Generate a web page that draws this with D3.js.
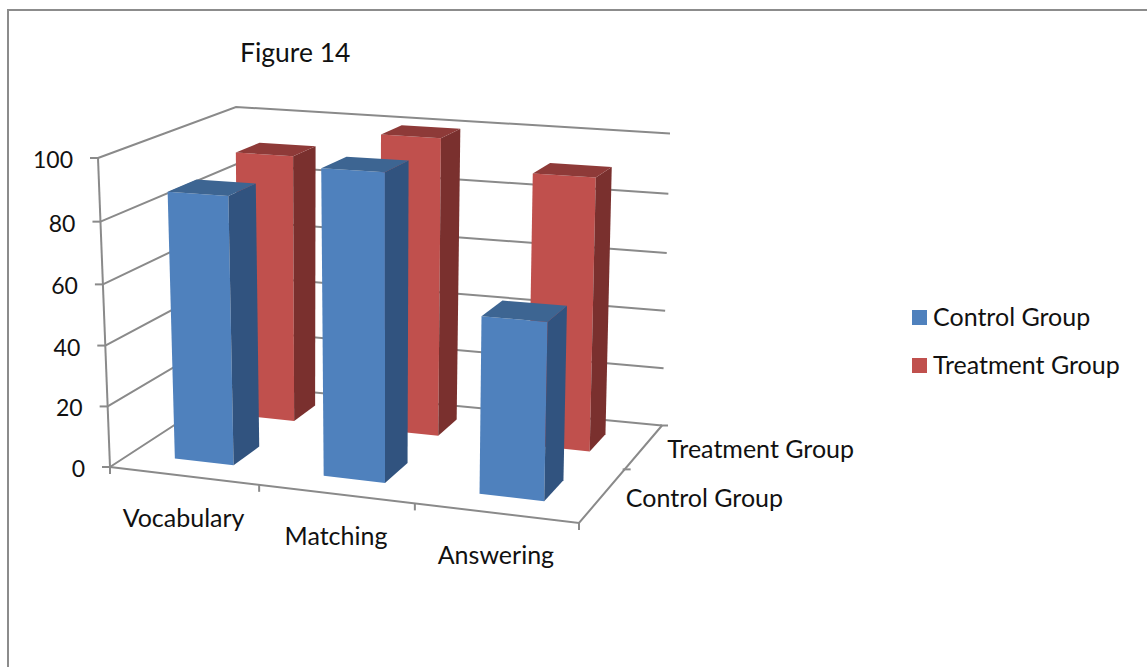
<!DOCTYPE html>
<html>
<head>
<meta charset="utf-8">
<title>Figure 14</title>
<script src="https://cdnjs.cloudflare.com/ajax/libs/d3/7.8.5/d3.min.js"></script>
<style>
  html, body { margin: 0; padding: 0; background: #fff; }
  svg { display: block; }
  text { font-family: Lato, "Open Sans", sans-serif; fill: #111; }
</style>
</head>
<body>
<svg id="chart" width="1147" height="667"></svg>
<script>
// Chart data
const categories = ["Vocabulary", "Matching", "Answering"];
const seriesNames = ["Control Group", "Treatment Group"];
const controlValues = [87.5, 98, 56];
const treatmentValues = [91, 100, 90.5];
const valueTicks = [0, 20, 40, 60, 80, 100];

const colors = {
  "Control Group": { front: "#4f81bd", side: "#31537f", top: "#3d6592" },
  "Treatment Group": { front: "#c0504d", side: "#7a302e", top: "#8e3a38" }
};
const gridColor = "#8a8a8a";
const fontSize = 25;

const svg = d3.select("#chart");

// Outer chart frame: only the top and left edges fall inside the page
svg.append("path")
  .attr("d", "M8,667V10H1147")
  .attr("fill", "none")
  .attr("stroke", "#8c8c8c")
  .attr("stroke-width", 2);

// Normalised plot-box scales; the uneven ranges give the perspective foreshortening
const uScale = d3.scaleLinear().domain([0, 1, 2, 3]).range([0, 0.318, 0.65, 1]);
const wScale = d3.scaleLinear().domain([0, 1, 2]).range([0, 0.55, 1]);
const vScale = d3.scaleLinear().domain(valueTicks).range([0, 0.196, 0.393, 0.591, 0.794, 1]);

// Screen corners of the plot box, keyed front/back, left/right, bottom/top
const box = {
  flb: [110, 467], frb: [579, 523], blb: [236, 385], brb: [662, 425.5],
  flt: [98, 158], frt: [587, 188], blt: [236, 107], brt: [670, 133.5]
};

// Trilinear projection of category, series depth and value into the page
function project(cat, depth, value) {
  const u = uScale(cat), w = wScale(depth), v = vScale(value);
  const mix = (a, b, t) => [a[0] + (b[0] - a[0]) * t, a[1] + (b[1] - a[1]) * t];
  const bottom = mix(mix(box.flb, box.frb, u), mix(box.blb, box.brb, u), w);
  const top = mix(mix(box.flt, box.frt, u), mix(box.blt, box.brt, u), w);
  return mix(bottom, top, v);
}

const polyline = d3.line();
const gridLayer = svg.append("g")
  .attr("fill", "none")
  .attr("stroke", gridColor)
  .attr("stroke-width", 2);

// Side wall and back wall gridlines
const nCat = categories.length, nSer = seriesNames.length;
gridLayer.selectAll("path.grid").data(valueTicks).join("path")
  .attr("class", "grid")
  .attr("d", t => polyline([project(0, 0, t), project(0, nSer, t), project(nCat, nSer, t)]));

// Value axis with its ticks
gridLayer.append("path").attr("d", polyline([project(0, 0, 0), project(0, 0, 100)]));
gridLayer.selectAll("path.vtick").data(valueTicks).join("path")
  .attr("class", "vtick")
  .attr("d", t => {
    const p = project(0, 0, t);
    return polyline([[p[0] - 8, p[1]], p]);
  });

// Floor edges and their ticks
gridLayer.append("path").attr("d", polyline([project(0, 0, 0), project(nCat, 0, 0), project(nCat, nSer, 0)]));
gridLayer.selectAll("path.ctick").data(d3.range(nCat + 1)).join("path")
  .attr("class", "ctick")
  .attr("d", c => {
    const p = project(c, 0, 0);
    return polyline([p, [p[0], p[1] + 7]]);
  });
gridLayer.selectAll("path.stick").data(d3.range(1, nSer + 1)).join("path")
  .attr("class", "stick")
  .attr("d", s => {
    const p = project(nCat, s, 0);
    return polyline([[p[0] - 2, p[1]], [p[0] + 6, p[1]]]);
  });

// Column boxes, back series first so the front series overlaps it
const gap = 0.3;
const bars = [];
[treatmentValues, controlValues].forEach((values, k) => {
  const s = nSer - 1 - k;
  values.forEach((value, c) => bars.push({ c, s, value, color: colors[seriesNames[s]] }));
});

const barGroups = svg.append("g").selectAll("g").data(bars).join("g");
const face = (sel, color, points) => sel.append("path")
  .attr("fill", d => d.color[color])
  .attr("d", d => polyline(points(d).map(p => project(...p))) + "Z");

const c0 = d => d.c + gap, c1 = d => d.c + 1 - gap;
const s0 = d => d.s + gap, s1 = d => d.s + 1 - gap;
face(barGroups, "front", d => [[c0(d), s0(d), 0], [c1(d), s0(d), 0], [c1(d), s0(d), d.value], [c0(d), s0(d), d.value]]);
face(barGroups, "side", d => [[c1(d), s0(d), 0], [c1(d), s1(d), 0], [c1(d), s1(d), d.value], [c1(d), s0(d), d.value]]);
face(barGroups, "top", d => [[c0(d), s0(d), d.value], [c1(d), s0(d), d.value], [c1(d), s1(d), d.value], [c0(d), s1(d), d.value]]);

// Title
svg.append("text").attr("x", 240).attr("y", 62).attr("font-size", 26.5).text("Figure 14");

// Value axis labels follow the leaning axis
svg.append("g").selectAll("text").data(valueTicks).join("text")
  .attr("x", t => project(0, 0, t)[0] - 25)
  .attr("y", t => project(0, 0, t)[1] + 10)
  .attr("text-anchor", "end")
  .attr("font-size", 23)
  .text(t => t);

// Category labels under the front edge
svg.append("g").selectAll("text").data(categories).join("text")
  .attr("x", (d, i) => project(i + 0.5, 0, 0)[0] - 1)
  .attr("y", (d, i) => project(i + 0.5, 0, 0)[1] + 51)
  .attr("text-anchor", "middle")
  .attr("font-size", fontSize)
  .text(d => d);

// Series labels along the right floor edge
svg.append("g").selectAll("text").data(seriesNames).join("text")
  .attr("x", (d, i) => project(nCat, i + 0.5, 0)[0] + 24)
  .attr("y", (d, i) => project(nCat, i + 0.5, 0)[1] + 11)
  .attr("font-size", fontSize)
  .text(d => d);

// Legend
const legendY = d3.scalePoint().domain(seriesNames).range([310, 358]);
const legend = svg.append("g").selectAll("g").data(seriesNames).join("g")
  .attr("transform", d => `translate(912,${legendY(d)})`);
legend.append("rect").attr("width", 15).attr("height", 15).attr("fill", d => colors[d].front);
legend.append("text").attr("x", 21).attr("y", 16).attr("font-size", fontSize).text(d => d);
</script>
</body>
</html>
